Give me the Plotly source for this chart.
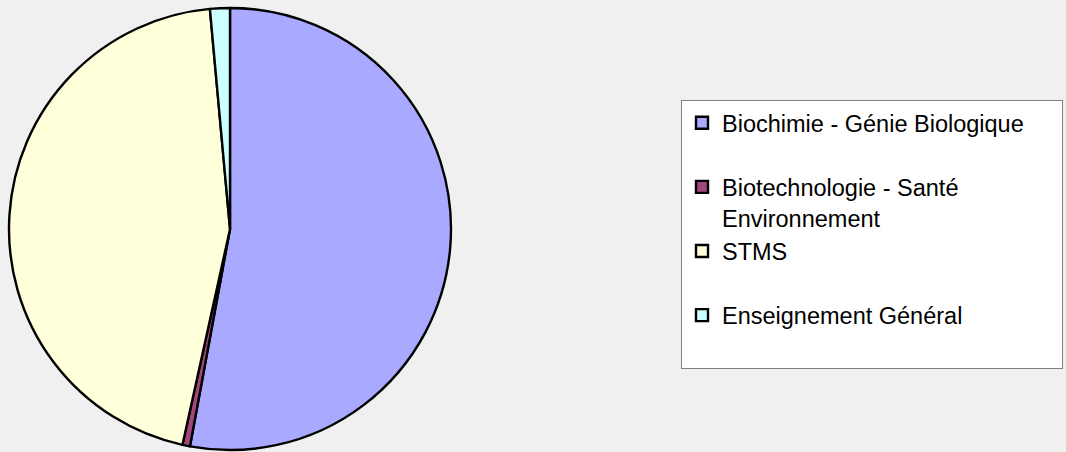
import plotly.graph_objects as go

categories = ["Biochimie - Génie Biologique", "Biotechnologie - Santé Environnement", "STMS", "Enseignement Général"]
values = [52.9, 0.55, 45.1, 1.45]
colors = ["#A9A9FF", "#A2467C", "#FFFFD9", "#CCFFFF"]

# legend display labels (line breaks / padding as in the reference legend box)
NB = "\u00a0"
legend_labels = [
    "Biochimie - Génie Biologique" + NB * 5 + "<br>" + NB,
    "Biotechnologie - Santé<br>Environnement",
    "STMS<br>" + NB,
    "Enseignement Général<br>" + NB,
]

W, H = 1066, 452
cx, cy, r = 230, 229, 221

fig = go.Figure(go.Pie(
    labels=legend_labels,
    values=values,
    sort=False,
    direction="clockwise",
    rotation=0,
    textinfo="none",
    hoverinfo="label+percent",
    marker=dict(colors=colors, line=dict(color="#000000", width=2.4)),
    domain=dict(x=[(cx - r) / W, (cx + r) / W], y=[(H - cy - r) / H, (H - cy + r) / H]),
))

fig.update_layout(
    width=W, height=H,
    margin=dict(l=0, r=0, t=0, b=0),
    paper_bgcolor="#F0F0F0",
    plot_bgcolor="#F0F0F0",
    showlegend=True,
    legend=dict(
        x=681 / W, xanchor="left",
        y=1 - 100 / H, yanchor="top",
        bgcolor="#FFFFFF",
        bordercolor="#808080",
        borderwidth=1,
        font=dict(family="Liberation Sans, Arial, sans-serif", size=23.5, color="#000000"),
        valign="top",
        itemclick=False,
    ),
)

fig.write_html(
    "out.html",
    config={"displayModeBar": False},
    post_script="document.body.style.margin='0';document.body.style.background='#F0F0F0';",
)
